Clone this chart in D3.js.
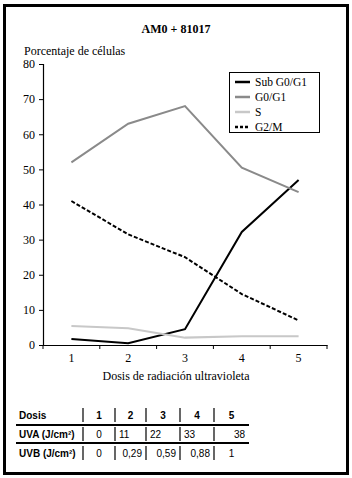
<!DOCTYPE html>
<html>
<head>
<meta charset="utf-8">
<script src="https://cdn.jsdelivr.net/npm/d3@7"></script>
<style>
  body { margin: 0; background: #fff; }
  svg { display: block; }
</style>
</head>
<body>
<div id="chart"></div>
<script>
const W = 352, H = 478;

// chart data
const doses = ["1", "2", "3", "4", "5"];
const subG0G1 = [1.7, 0.5, 4.5, 32.2, 47];
const g0g1 = [52, 63, 68, 50.5, 43.5];
const sPhase = [5.4, 4.8, 2.1, 2.5, 2.5];
const g2m = [41, 31.5, 25, 14.5, 7];
const yTicks = [0, 10, 20, 30, 40, 50, 60, 70, 80];

const seriesNames = ["Sub G0/G1", "G0/G1", "S", "G2/M"];
const seriesValues = [subG0G1, g0g1, sPhase, g2m];
const seriesColors = ["#000", "#8a8a8a", "#c8c8c8", "#000"];
const seriesDash = [null, null, null, "4,2"];

// dose table
const tableHeader = ["Dosis", "1", "2", "3", "4", "5"];
const uvaRow = ["UVA (J/cm²)", "0", "11", "22", "33", "38"];
const uvbRow = ["UVB (J/cm²)", "0", "0,29", "0,59", "0,88", "1"];

const svg = d3.select("#chart").append("svg")
  .attr("width", W)
  .attr("height", H);

// outer frame
svg.append("rect")
  .attr("x", 4.5).attr("y", 5.5)
  .attr("width", 343).attr("height", 468)
  .attr("fill", "none")
  .attr("stroke", "#000")
  .attr("stroke-width", 3);

const serif = "'Liberation Serif', 'DejaVu Serif', serif";
const sans = "'Liberation Sans', Arial, sans-serif";

svg.append("text")
  .attr("x", 176).attr("y", 33)
  .attr("text-anchor", "middle")
  .attr("font-family", serif)
  .attr("font-weight", "bold")
  .attr("font-size", 12)
  .text("AM0 + 81017");

svg.append("text")
  .attr("x", 24).attr("y", 55)
  .attr("font-family", serif)
  .attr("font-size", 12)
  .text("Porcentaje de células");

const x = d3.scaleBand().domain(doses).range([43, 327]);
const y = d3.scaleLinear().domain([0, 80]).range([345, 64]);

// y axis
const yAxis = svg.append("g")
  .attr("transform", "translate(43,0)")
  .call(d3.axisLeft(y).tickValues(yTicks).tickSize(4).tickPadding(4));
yAxis.select(".domain").attr("stroke-width", 1.2);
yAxis.selectAll("text").attr("font-family", serif).attr("font-size", 12);

// x axis: ticks at band edges, labels in the middle
const xAxis = svg.append("g")
  .attr("transform", "translate(0,345)")
  .call(d3.axisBottom(x).tickSize(0).tickPadding(8));
xAxis.select(".domain").attr("stroke-width", 1.2);
xAxis.selectAll("text").attr("font-family", serif).attr("font-size", 12);
const edges = doses.map(d => x(d)).concat([x.range()[1]]);
xAxis.selectAll(".edge")
  .data(edges).enter()
  .append("line")
  .attr("x1", d => d).attr("x2", d => d)
  .attr("y1", 0).attr("y2", 4)
  .attr("stroke", "#000");

svg.append("text")
  .attr("x", 176).attr("y", 380)
  .attr("text-anchor", "middle")
  .attr("font-family", serif)
  .attr("font-size", 12)
  .text("Dosis de radiación ultravioleta");

// lines
const line = d3.line()
  .x((d, i) => x(doses[i]) + x.bandwidth() / 2)
  .y(d => y(d));

seriesValues.forEach((vals, i) => {
  svg.append("path")
    .datum(vals)
    .attr("d", line)
    .attr("fill", "none")
    .attr("stroke", seriesColors[i])
    .attr("stroke-width", 2)
    .attr("stroke-dasharray", seriesDash[i]);
});

// legend
const legend = svg.append("g").attr("transform", "translate(229,72)");
legend.append("rect")
  .attr("x", 0.5).attr("y", 0.5)
  .attr("width", 90).attr("height", 60)
  .attr("fill", "#fff")
  .attr("stroke", "#000");
seriesNames.forEach((name, i) => {
  const ly = 10 + i * 15;
  legend.append("line")
    .attr("x1", 6).attr("x2", 21)
    .attr("y1", ly).attr("y2", ly)
    .attr("stroke", seriesColors[i])
    .attr("stroke-width", 2.5)
    .attr("stroke-dasharray", seriesDash[i] ? "3,2" : null);
  legend.append("text")
    .attr("x", 26).attr("y", ly + 4)
    .attr("font-family", serif)
    .attr("font-size", 11.5)
    .text(name);
});

// table
const colEdges = [16, 83, 115, 146, 180, 214, 249];
const rowY = [415, 434, 453];
const rows = [tableHeader, uvaRow, uvbRow];
const align = [
  ["start", "middle", "middle", "middle", "middle", "middle"],
  ["start", "middle", "start", "start", "start", "end"],
  ["start", "middle", "end", "end", "end", "middle"]
];
const table = svg.append("g");
rows.forEach((row, r) => {
  row.forEach((cell, c) => {
    const a = align[r][c];
    const x0 = colEdges[c], x1 = colEdges[c + 1];
    const tx = c === 0 ? 19 : a === "middle" ? (x0 + x1) / 2 : a === "start" ? x0 + 4 : x1 - 4;
    table.append("text")
      .attr("x", tx).attr("y", rowY[r] + 4)
      .attr("text-anchor", a)
      .attr("font-family", sans)
      .attr("font-weight", (r === 0 || c === 0) ? "bold" : "normal")
      .attr("font-size", 10)
      .text(cell);
  });
  // vertical separators
  colEdges.slice(1, 6).forEach(cx => {
    table.append("line")
      .attr("x1", cx).attr("x2", cx)
      .attr("y1", rowY[r] - 7).attr("y2", rowY[r] + 7)
      .attr("stroke", "#000")
      .attr("stroke-width", 1.2);
  });
});
[425, 443].forEach(ly => {
  table.append("line")
    .attr("x1", 16).attr("x2", 249)
    .attr("y1", ly).attr("y2", ly)
    .attr("stroke", "#000")
    .attr("stroke-width", 2);
});
</script>
</body>
</html>
